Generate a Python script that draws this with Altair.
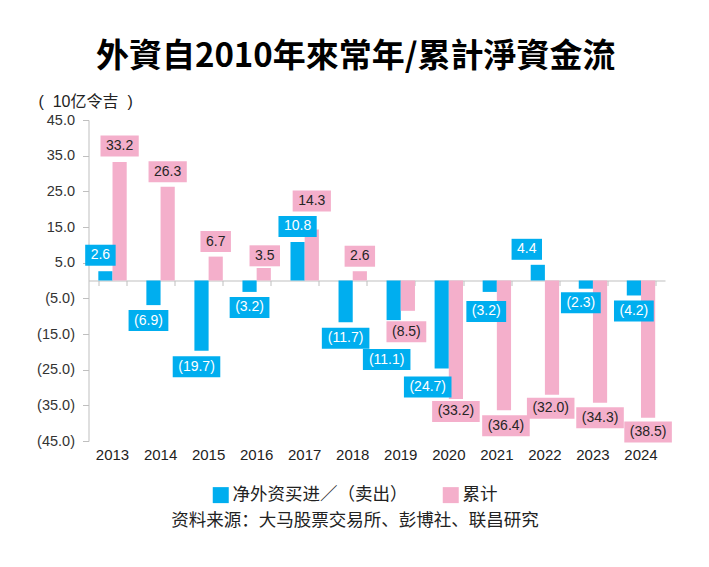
import altair as alt
import pandas as pd

# ---- data ----
years = ["2013", "2014", "2015", "2016", "2017", "2018",
         "2019", "2020", "2021", "2022", "2023", "2024"]
net_flow = [2.6, -6.9, -19.7, -3.2, 10.8, -11.7, -11.1, -24.7, -3.2, 4.4, -2.3, -4.2]
cumulative = [33.2, 26.3, 6.7, 3.5, 14.3, 2.6, -8.5, -33.2, -36.4, -32.0, -34.3, -38.5]
series_names = ["净外资买进／（卖出）", "累计"]
y_ticks = [-45, -35, -25, -15, -5, 5, 15, 25, 35, 45]

title_text = "外資自2010年來常年/累計淨資金流"
y_title = "(\u00a0\u00a010亿令吉\u00a0\u00a0)"
source_text = "资料来源：大马股票交易所、彭博社、联昌研究"

# ---- label nudges (pixels, style only) ----
blue_dx = [-5, -5, -5, 0, 0, 0, -7, -14, -3.5, -11, -5, 0]
blue_dy = [0.5, 0, 0.5, 0, 0, 0.5, 24, 3, 4, 0, -1.5, 0]
pink_dx = [0, 0, 0, 1, 0, 0, -1.5, 0, 2, -1.3, 0, 0]
pink_dy = [0.5, -0.5, -0.5, -3.3, 13, -0.5, 5.4, -3, 0, -2, -0.5, -1.3]

BLUE = "#00AEEF"
PINK = "#F4AFCB"
GRAY = "#BFBFBF"
LATIN = "Liberation Sans"
CJK = "Noto Sans CJK SC"

W, H = 576.5, 321
K = H / 90.0  # px per unit

rows = []
for i, y in enumerate(years):
    rows.append(dict(year=y, series=series_names[0], value=net_flow[i],
                     ndx=blue_dx[i], ndy=blue_dy[i], base=-7.1))
    rows.append(dict(year=y, series=series_names[1], value=cumulative[i],
                     ndx=pink_dx[i], ndy=pink_dy[i], base=7.1))
df = pd.DataFrame(rows)

yscale = alt.Scale(domain=[-45, 45], nice=False, zero=False)
xscale = alt.Scale(paddingInner=0.409, paddingOuter=0.2045)

base = alt.Chart(df)

bars = base.mark_bar().encode(
    x=alt.X("year:N", scale=xscale, sort=years,
            axis=alt.Axis(orient="bottom", offset=-H / 2, tickBand="extent",
                          labels=False, title=None, domainColor=GRAY,
                          tickColor=GRAY, tickSize=5, domainWidth=1)),
    xOffset=alt.XOffset("series:N", sort=series_names,
                        scale=alt.Scale(domain=series_names, paddingInner=0, paddingOuter=0)),
    y=alt.Y("value:Q", scale=yscale,
            axis=alt.Axis(values=y_ticks, grid=False, domainColor=GRAY, tickColor=GRAY,
                          tickSize=6, labelPadding=8, labelFont=LATIN, labelFontSize=14.5,
                          labelColor="#333333",
                          labelExpr="datum.value < 0 ? '(' + format(-datum.value, '.1f') + ')' : format(datum.value, '.1f') + '\u00a0'",
                          title=y_title, titleAngle=0, titleAlign="left", titleBaseline="middle",
                          titleX=-50.5, titleY=-19, titleFont=LATIN + ", " + CJK,
                          titleFontSize=16, titleFontWeight="normal", titleColor="#222222")),
    color=alt.Color("series:N", scale=alt.Scale(domain=series_names, range=[BLUE, PINK]),
                    legend=alt.Legend(orient="none", legendX=123.5, legendY=366,
                                      direction="horizontal", title=None,
                                      symbolType="square", symbolSize=256,
                                      symbolStrokeWidth=0, labelFont=CJK,
                                      labelFontSize=17.5, labelColor="#222222",
                                      labelLimit=500, labelOffset=3,
                                      columnPadding=34, padding=0)),
)

lab = base.transform_calculate(
    s="datum.value >= 0 ? 1 : -1",
    g="5 + datum.ndy",
).transform_calculate(
    lo=f"datum.value + datum.s * datum.g / {K}",
    hi=f"datum.value + datum.s * (datum.g + 21) / {K}",
    mid=f"datum.value + datum.s * (datum.g + 10.5) / {K}",
    txt="datum.value < 0 ? '(' + format(-datum.value, '.1f') + ')' : format(datum.value, '.1f')",
    off="datum.base + datum.ndx",
    bw="(length(format(abs(datum.value), '.1f')) - 1) * 7.784 + 3.892 + (datum.value < 0 ? 9.324 : 0) + 11",
)

boxes = lab.mark_bar(xOffset=alt.ExprRef(expr="datum.off")).encode(
    x=alt.X("year:N", sort=years, axis=None),
    y=alt.Y("lo:Q", scale=yscale, axis=None),
    y2="hi:Q",
    size=alt.Size("bw:Q", scale=None, legend=None),
    color=alt.condition(alt.datum.series == series_names[0], alt.value(BLUE), alt.value(PINK)),
)

texts = lab.mark_text(xOffset=alt.ExprRef(expr="datum.off"), baseline="middle",
                      align="center", font=LATIN, fontSize=14).encode(
    x=alt.X("year:N", sort=years,
            axis=alt.Axis(orient="bottom", domain=False, ticks=False, tickSize=0,
                          labelPadding=6, labelFont=LATIN, labelFontSize=15,
                          labelColor="#222222", labelAngle=0, title=None)),
    y=alt.Y("mid:Q", scale=yscale, axis=None),
    text="txt:N",
    color=alt.condition(alt.datum.series == series_names[0], alt.value("#FFFFFF"),
                        alt.value("#262626")),
)

source = alt.Chart(pd.DataFrame({"t": [source_text]})).mark_text(
    font=CJK, fontSize=17.5, color="#222222", align="center", baseline="middle"
).encode(text="t:N", x=alt.value(266.5), y=alt.value(401))

chart = alt.layer(bars, boxes, texts, source).resolve_axis(
    x="independent", y="independent"
).properties(
    width=W, height=H,
    title=alt.TitleParams(title_text, font="Noto Sans CJK TC", fontSize=33,
                          fontWeight="bold", color="#000000", anchor="middle",
                          offset=19, dx=-21),
    padding={"left": 80.5, "top": 112, "right": 30, "bottom": 100},
    autosize=alt.AutoSizeParams(type="none"),
).configure_view(stroke=None)

chart.save("out.html", embed_options={"renderer": "svg", "actions": False})
